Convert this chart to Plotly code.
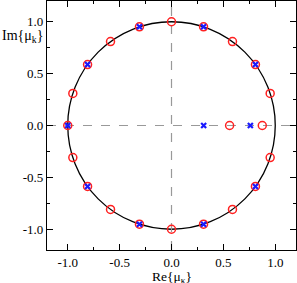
import numpy as np
import plotly.graph_objects as go

# Data: eigenvalue angles (degrees) on the unit circle, plus real-axis values
red_angles_deg = [18, 36, 54, 72, 90, 108, 126, 144, 162, 180,
                  198, 216, 234, 252, 270, 288, 306, 324, 342]
red_real_extra = [0.56, 0.875]
blue_angles_deg = [36, 72, 108, 144, 180, 216, 252, 288, 324]
blue_real_extra = [0.31, 0.76]

tick_vals = [-1.0, -0.5, 0.0, 0.5, 1.0]
tick_text = ["-1.0", "-0.5", "0.0", "0.5", "1.0"]
minor_step = 0.25
axis_range = [-1.2, 1.2]

def to_xy(angles, extra):
    a = np.deg2rad(np.array(angles, dtype=float))
    x = list(np.cos(a)) + list(extra)
    y = list(np.sin(a)) + [0.0] * len(extra)
    return x, y

rx, ry = to_xy(red_angles_deg, red_real_extra)
bx, by = to_xy(blue_angles_deg, blue_real_extra)

FONT = "Liberation Serif, Times New Roman, Times, serif"

fig = go.Figure()
# dashed axes through origin
fig.add_trace(go.Scatter(x=axis_range, y=[0, 0], mode="lines",
                         line=dict(color="#999999", width=1.2, dash="dash"),
                         hoverinfo="skip", showlegend=False))
fig.add_trace(go.Scatter(x=[0, 0], y=axis_range, mode="lines",
                         line=dict(color="#999999", width=1.2, dash="dash"),
                         hoverinfo="skip", showlegend=False))
fig.add_shape(type="circle", xref="x", yref="y", x0=-1, y0=-1, x1=1, y1=1,
              line=dict(color="black", width=1.3), layer="below")
fig.add_trace(go.Scatter(x=rx, y=ry, mode="markers",
                         marker=dict(symbol="circle-open", size=8, color="#ff2020",
                                     line=dict(width=1.5)),
                         showlegend=False))
fig.add_trace(go.Scatter(x=bx, y=by, mode="markers",
                         marker=dict(symbol="x-thin-open", size=5, color="#1a1aff",
                                     line=dict(width=2.2, color="#1a1aff")),
                         showlegend=False))

axis_common = dict(range=axis_range, tickmode="array", tickvals=tick_vals,
                   ticktext=tick_text, ticks="inside", ticklen=6, tickwidth=1,
                   tickcolor="black", showline=True, linecolor="black", linewidth=1.3,
                   mirror="allticks", showgrid=False, zeroline=False,
                   tickfont=dict(family=FONT, size=13, color="black"),
                   minor=dict(tickmode="linear", tick0=0, dtick=minor_step,
                              ticks="inside", ticklen=3, tickcolor="black",
                              showgrid=False))
fig.update_xaxes(**axis_common)
fig.update_yaxes(**axis_common)

fig.update_layout(
    width=297, height=283,
    margin=dict(l=47, r=1, t=1, b=33),
    plot_bgcolor="white", paper_bgcolor="white",
    showlegend=False,
    annotations=[
        dict(text="Re{μ<sub>κ</sub>}", xref="paper", yref="paper", x=0.5, y=0,
             yshift=-17, xanchor="center", yanchor="top", showarrow=False,
             font=dict(family=FONT, size=13.5, color="black")),
        dict(text="Im{μ<sub>k</sub>}", xref="paper", yref="y", x=0, y=0.86,
             xshift=-2, xanchor="right", yanchor="middle", showarrow=False,
             font=dict(family=FONT, size=14, color="black")),
    ],
)
fig.write_html("out.html", config={"displayModeBar": False},
               post_script="document.body.style.margin='0';document.body.style.padding='0';")
